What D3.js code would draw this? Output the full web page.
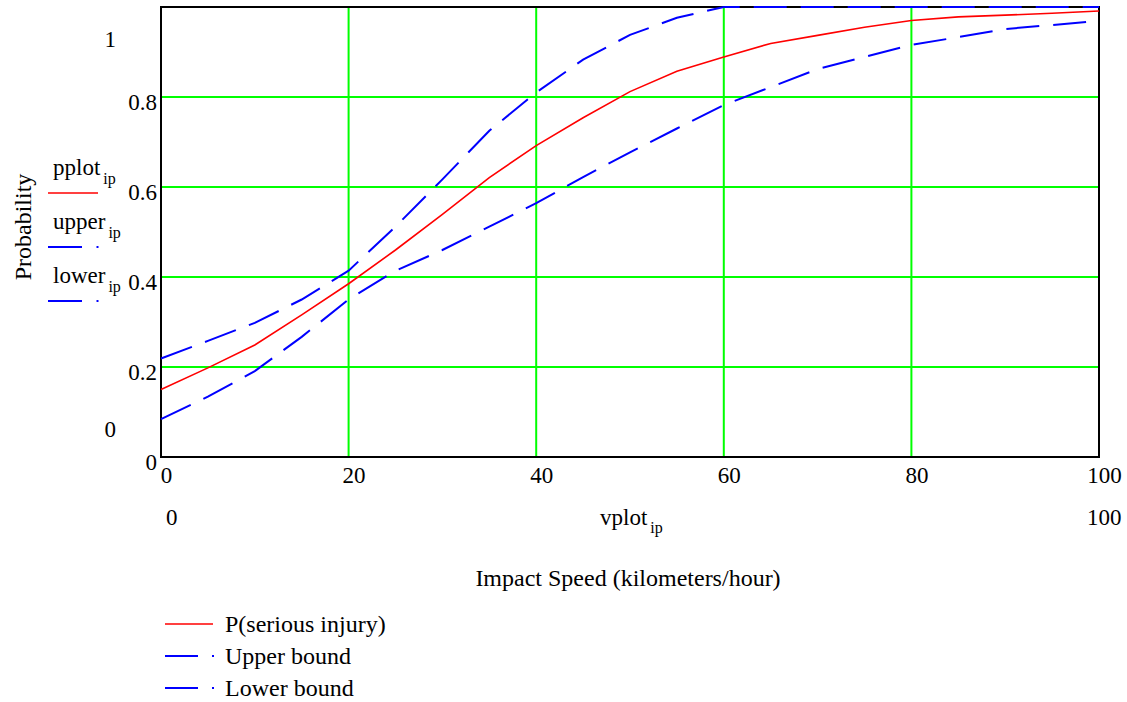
<!DOCTYPE html>
<html><head><meta charset="utf-8">
<script src="https://cdn.jsdelivr.net/npm/d3@7"></script>
<style>
body{margin:0;background:#fff}
svg{display:block}
</style>
</head><body>
<svg id="c" width="1127" height="702" font-family="'Liberation Serif', Tinos, 'Times New Roman', 'DejaVu Serif', serif"></svg>
<script>
// ---- data ----
const speeds = [0,5,10,15,20,25,30,35,40,45,50,55,60,65,70,75,80,85,90,95,100];
const pplot  = [0.150,0.198,0.249,0.316,0.385,0.460,0.539,0.621,0.692,0.754,0.812,0.857,0.889,0.919,0.937,0.955,0.970,0.978,0.982,0.986,0.991];
const upper  = [0.219,0.258,0.298,0.350,0.414,0.512,0.617,0.725,0.810,0.883,0.938,0.976,1,1,1,1,1,1,1,1,1];
const lower  = [0.084,0.134,0.191,0.267,0.350,0.414,0.460,0.512,0.564,0.622,0.677,0.730,0.782,0.822,0.862,0.889,0.916,0.933,0.951,0.960,0.969];
const xTicks = [0,20,40,60,80,100];
const yTicks = [0,0.2,0.4,0.6,0.8];
const xGrid  = [20,40,60,80];
const yGrid  = [0.2,0.4,0.6,0.8];
const legendItems = ["P(serious injury)","Upper bound","Lower bound"];
const sideLegend = [["pplot","ip"],["upper","ip"],["lower","ip"]];

// ---- layout ----
const FONT = "'Liberation Serif', Tinos, 'Times New Roman', 'DejaVu Serif', serif";
const L=161, R=1099, T=7, B=457;
const svg = d3.select("#c");
const x = d3.scaleLinear().domain([0,100]).range([L,R]);
const y = d3.scaleLinear().domain([0,1]).range([B,T]);
const GREEN="#00ff00", RED="#ff0000", BLUE="#0000ff";
const FS=23, FL=24;

// gridlines
svg.append("g").selectAll("line").data(xGrid).join("line")
  .attr("x1",d=>x(d)).attr("x2",d=>x(d)).attr("y1",T).attr("y2",B)
  .attr("stroke",GREEN).attr("stroke-width",2);
svg.append("g").selectAll("line").data(yGrid).join("line")
  .attr("x1",L).attr("x2",R).attr("y1",d=>y(d)).attr("y2",d=>y(d))
  .attr("stroke",GREEN).attr("stroke-width",2);

// border
svg.append("rect").attr("x",L).attr("y",T).attr("width",R-L).attr("height",B-T)
  .attr("fill","none").attr("stroke","#000").attr("stroke-width",2);

// axes (labels only)
const ya = svg.append("g").attr("transform",`translate(${L},0)`)
  .call(d3.axisLeft(y).tickValues(yTicks).tickSize(0).tickPadding(4).tickFormat(d=>String(d)));
ya.attr("font-family",FONT).attr("font-size",FS);
ya.select(".domain").remove();
ya.selectAll("text").attr("dy",null).attr("y",12).attr("fill","#000");
const xa = svg.append("g").attr("transform",`translate(0,${B})`)
  .call(d3.axisBottom(x).tickValues(xTicks).tickSize(0).tickFormat(d=>String(d)));
xa.attr("font-family",FONT).attr("font-size",FS);
xa.select(".domain").remove();
xa.selectAll("text").attr("dy",null).attr("y",26).attr("x",5).attr("fill","#000");

// lines
const line = d3.line().x((d,i)=>x(speeds[i])).y(d=>y(d));
svg.append("path").datum(pplot).attr("d",line).attr("fill","none")
  .attr("stroke",RED).attr("stroke-width",1.6);
[upper,lower].forEach(s=>{
  svg.append("path").datum(s).attr("d",line).attr("fill","none")
    .attr("stroke",BLUE).attr("stroke-width",2).attr("stroke-dasharray","33,14");
});

// range labels
const t = (xx,yy,str,anchor,fs)=>svg.append("text").attr("x",xx).attr("y",yy)
  .attr("font-family",FONT).attr("font-size",fs||FS)
  .attr("text-anchor",anchor||"start").text(str);
t(116,47,"1","end");
t(116,437,"0","end");
t(166,525,"0","start");
t(1087,525,"100","start");
const vp = svg.append("text").attr("x",600).attr("y",525).attr("font-family",FONT).attr("font-size",FS);
vp.append("tspan").text("vplot");
vp.append("tspan").attr("dx",3).attr("dy",8).attr("font-size",16).text("ip");
t(628,586,"Impact Speed (kilometers/hour)","middle",FL);
svg.append("text").attr("transform","translate(31,227) rotate(-90)")
  .attr("font-family",FONT).attr("font-size",FL)
  .attr("text-anchor","middle").text("Probability");

// side legend
sideLegend.forEach((s,i)=>{
  const by = 175 + i*54;
  const tx = svg.append("text").attr("x",53).attr("y",by).attr("font-family",FONT).attr("font-size",FS);
  tx.append("tspan").text(s[0]);
  tx.append("tspan").attr("dx",3).attr("dy",9).attr("font-size",16).text(s[1]);
  if(i===0){
    svg.append("line").attr("x1",48).attr("x2",98).attr("y1",by+18).attr("y2",by+18)
      .attr("stroke",RED).attr("stroke-width",1.6);
  } else {
    svg.append("line").attr("x1",48).attr("x2",82).attr("y1",by+18).attr("y2",by+18)
      .attr("stroke",BLUE).attr("stroke-width",2);
    svg.append("line").attr("x1",96.5).attr("x2",98.5).attr("y1",by+18).attr("y2",by+18)
      .attr("stroke",BLUE).attr("stroke-width",2);
  }
});

// bottom legend
legendItems.forEach((s,i)=>{
  const ly = 624 + i*32;
  if(i===0){
    svg.append("line").attr("x1",165).attr("x2",213).attr("y1",ly).attr("y2",ly)
      .attr("stroke",RED).attr("stroke-width",1.6);
  } else {
    svg.append("line").attr("x1",165).attr("x2",198).attr("y1",ly).attr("y2",ly)
      .attr("stroke",BLUE).attr("stroke-width",2);
    svg.append("line").attr("x1",212).attr("x2",214).attr("y1",ly).attr("y2",ly)
      .attr("stroke",BLUE).attr("stroke-width",2);
  }
  t(225, ly+8, s, "start", FL);
});
</script>
</body></html>
